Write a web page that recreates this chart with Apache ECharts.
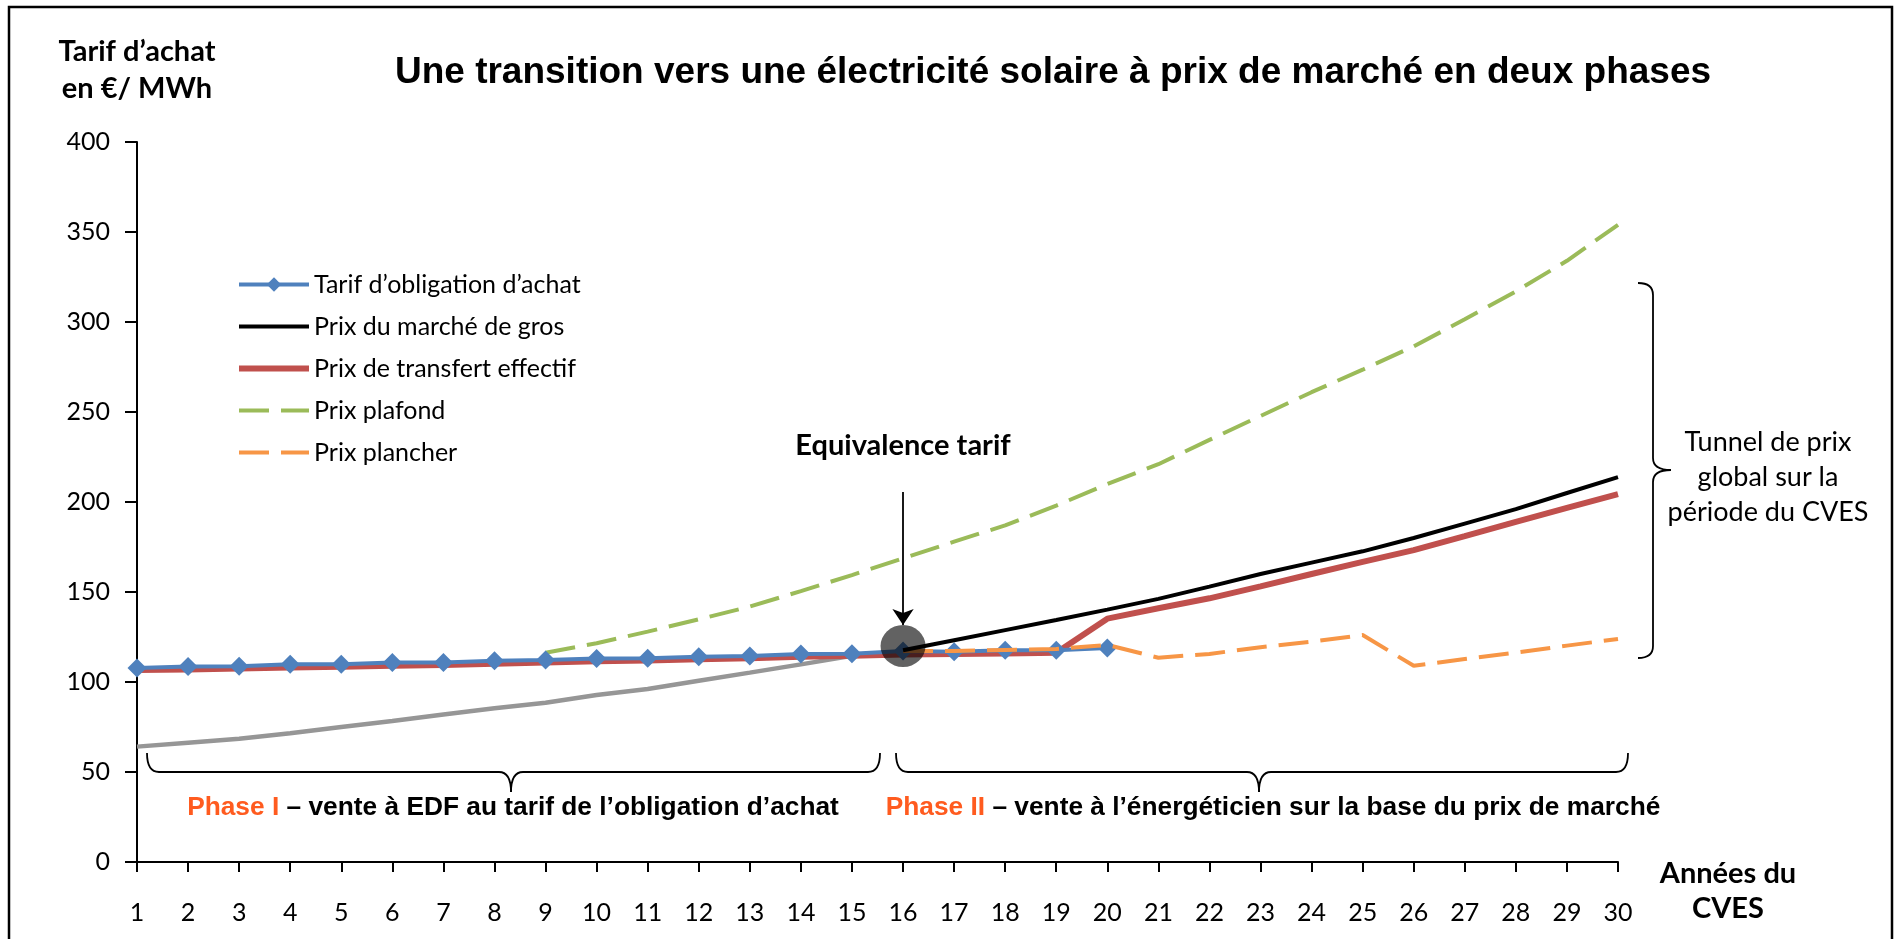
<!DOCTYPE html>
<html>
<head>
<meta charset="utf-8">
<title>Transition CVES</title>
<script src="https://cdn.jsdelivr.net/npm/echarts@6.0.0/dist/echarts.min.js"></script>
<style>
  html, body { margin: 0; padding: 0; background: #fff; }
  #main { width: 1900px; height: 939px; }
</style>
</head>
<body>
<div id="main"></div>
<script type="text/javascript">
  // années du CVES
  var annees = ['1','2','3','4','5','6','7','8','9','10','11','12','13','14','15',
                '16','17','18','19','20','21','22','23','24','25','26','27','28','29','30'];
  var yTicks = [0, 50, 100, 150, 200, 250, 300, 350, 400];

  // Tarif d'obligation d'achat (années 1 à 20)
  var tarifObligation = [107.8, 108.6, 108.7, 109.8, 109.9, 110.8, 110.9, 111.8, 112.2, 113.1,
                         113.2, 114.0, 114.4, 115.6, 115.7, 117.2, 116.8, 117.6, 117.6, 118.9];
  // Prix du marché de gros (à partir de l'année 16)
  var prixMarche = [null, null, null, null, null, null, null, null, null, null, null, null, null, null, null,
                    117.6, 123.2, 128.8, 134.4, 140.2, 146.2, 153.0, 160.0, 166.3, 172.6, 180.0, 188.0, 196.0, 205.0, 213.8];
  // Prix de transfert effectif
  var prixTransfert = [106.7, 107.0, 107.5, 108.0, 108.5, 109.0, 109.5, 110.2, 110.8, 111.5,
                       112.0, 112.6, 113.2, 114.0, 114.6, 115.3, 115.5, 115.8, 116.3, 135.2,
                       141.0, 146.5, 153.1, 160.0, 166.7, 173.3, 181.0, 189.0, 196.7, 204.4];
  // Prix plafond (à partir de l'année 9)
  var prixPlafond = [null, null, null, null, null, null, null, null,
                     116.3, 121.5, 128.0, 134.8, 141.9, 150.5, 159.4, 168.7, 178.0, 187.0, 198.0, 210.0,
                     221.0, 234.5, 247.8, 261.0, 273.5, 286.5, 301.5, 317.0, 334.0, 354.0];
  // Prix plancher (à partir de l'année 16)
  var prixPlancher = [null, null, null, null, null, null, null, null, null, null, null, null, null, null, null,
                      117.2, 117.2, 117.8, 118.3, 120.6, 113.5, 115.6, 119.3, 122.4, 126.1, 109.0, 112.8, 116.3, 120.2, 123.9];
  // courbe grise (années 1 à 15)
  var courbeGrise = [64.1, 66.3, 68.5, 71.5, 75.0, 78.3, 82.0, 85.4, 88.5, 92.8, 96.1, 100.7, 105.2, 109.8, 114.5];

  // point d'équivalence tarif
  var equivAnnee = '16';
  var equivValeur = 120;
  var flecheHaut = 205.6;
  var flecheBas = 131.7;

  var calibri = 'Lato, "Open Sans", sans-serif';
  var arial = '"Liberation Sans", Arial, sans-serif';
  var tirets = [30, 12];

  // accolade horizontale (pointe vers le bas)
  function accoladeH(x1, x2, xm, yBout, yLigne, yPointe, r) {
    var st = { fill: 'none', stroke: '#000', lineWidth: 1.8 };
    return [
      { type: 'bezierCurve', shape: { x1: x1, y1: yBout, x2: x1 + r, y2: yLigne, cpx1: x1, cpy1: yLigne }, style: st },
      { type: 'line', shape: { x1: x1 + r, y1: yLigne, x2: xm - r, y2: yLigne }, style: st },
      { type: 'bezierCurve', shape: { x1: xm - r, y1: yLigne, x2: xm, y2: yPointe, cpx1: xm, cpy1: yLigne }, style: st },
      { type: 'bezierCurve', shape: { x1: xm, y1: yPointe, x2: xm + r, y2: yLigne, cpx1: xm, cpy1: yLigne }, style: st },
      { type: 'line', shape: { x1: xm + r, y1: yLigne, x2: x2 - r, y2: yLigne }, style: st },
      { type: 'bezierCurve', shape: { x1: x2 - r, y1: yLigne, x2: x2, y2: yBout, cpx1: x2, cpy1: yLigne }, style: st }
    ];
  }
  // accolade verticale (pointe vers la droite)
  function accoladeV(y1, y2, ym, xBout, xLigne, xPointe, r) {
    var st = { fill: 'none', stroke: '#000', lineWidth: 1.8 };
    return [
      { type: 'bezierCurve', shape: { x1: xBout, y1: y1, x2: xLigne, y2: y1 + r, cpx1: xLigne, cpy1: y1 }, style: st },
      { type: 'line', shape: { x1: xLigne, y1: y1 + r, x2: xLigne, y2: ym - r }, style: st },
      { type: 'bezierCurve', shape: { x1: xLigne, y1: ym - r, x2: xPointe, y2: ym, cpx1: xLigne, cpy1: ym }, style: st },
      { type: 'bezierCurve', shape: { x1: xPointe, y1: ym, x2: xLigne, y2: ym + r, cpx1: xLigne, cpy1: ym }, style: st },
      { type: 'line', shape: { x1: xLigne, y1: ym + r, x2: xLigne, y2: y2 - r }, style: st },
      { type: 'bezierCurve', shape: { x1: xLigne, y1: y2 - r, x2: xBout, y2: y2, cpx1: xLigne, cpy1: y2 }, style: st }
    ];
  }

  var myChart = echarts.init(document.getElementById('main'));

  var graphics = [
    { type: 'rect', z: 100, silent: true,
      shape: { x: 9, y: 7, width: 1883, height: 950 },
      style: { fill: 'none', stroke: '#000', lineWidth: 2.5 } },
    { type: 'text', x: 1053, y: 73, z: 100,
      style: { text: 'Une transition vers une électricité solaire à prix de marché en deux phases',
               font: 'bold 37px ' + arial, fill: '#000', align: 'center', verticalAlign: 'middle' } },
    { type: 'text', x: 137, y: 70, z: 100,
      style: { text: 'Tarif d’achat\nen €/ MWh', font: 'bold 29px ' + calibri, lineHeight: 37,
               fill: '#000', align: 'center', verticalAlign: 'middle' } },
    { type: 'text', x: 1728, y: 891, z: 100,
      style: { text: 'Années du\nCVES', font: 'bold 29px ' + calibri, lineHeight: 35,
               fill: '#000', align: 'center', verticalAlign: 'middle' } },
    { type: 'text', x: 903, y: 446, z: 100,
      style: { text: 'Equivalence tarif', font: 'bold 29px ' + calibri,
               fill: '#000', align: 'center', verticalAlign: 'middle' } },
    { type: 'text', x: 1768, y: 477, z: 100,
      style: { text: 'Tunnel de prix\nglobal sur la\npériode du CVES', font: '27px ' + calibri, lineHeight: 35,
               fill: '#000', align: 'center', verticalAlign: 'middle' } },
    { type: 'text', x: 513, y: 808, z: 100,
      style: { text: '{o|Phase I} – vente à EDF au tarif de l’obligation d’achat',
               font: 'bold 26.3px ' + arial, fill: '#000', align: 'center', verticalAlign: 'middle',
               rich: { o: { fill: '#FF5B1F', font: 'bold 26.3px ' + arial } } } },
    { type: 'text', x: 1273, y: 808, z: 100,
      style: { text: '{o|Phase II} – vente à l’énergéticien sur la base du prix de marché',
               font: 'bold 26.3px ' + arial, fill: '#000', align: 'center', verticalAlign: 'middle',
               rich: { o: { fill: '#FF5B1F', font: 'bold 26.3px ' + arial } } } }
  ];
  graphics = graphics
    .concat(accoladeH(147, 880, 511, 753, 772, 792, 12))
    .concat(accoladeH(896, 1628, 1259, 753, 772, 792, 12))
    .concat(accoladeV(283, 658, 470, 1638, 1653, 1671, 12));

  var sansSymbole = { opacity: 0 };

  var option = {
    backgroundColor: '#fff',
    animation: false,
    grid: { left: 137, right: 282, top: 142, bottom: 77, containLabel: false },
    legend: {
      orient: 'vertical',
      left: 231,
      top: 266,
      itemWidth: 70,
      itemHeight: 18,
      itemGap: 15,
      textStyle: { fontFamily: calibri, fontSize: 25, lineHeight: 27, color: '#000' },
      data: [
        { name: 'Tarif d’obligation d’achat', lineStyle: { width: 4, color: '#4F81BD' } },
        { name: 'Prix du marché de gros', itemStyle: sansSymbole, lineStyle: { width: 4, color: '#000' } },
        { name: 'Prix de transfert effectif', itemStyle: sansSymbole, lineStyle: { width: 6, color: '#C0504D' } },
        { name: 'Prix plafond', itemStyle: sansSymbole, lineStyle: { width: 4, color: '#9BBB59', type: tirets } },
        { name: 'Prix plancher', itemStyle: sansSymbole, lineStyle: { width: 4, color: '#F79646', type: tirets } }
      ]
    },
    xAxis: {
      type: 'category',
      data: annees,
      boundaryGap: false,
      axisLine: { lineStyle: { color: '#000', width: 2 } },
      axisTick: { show: true, length: 10, lineStyle: { color: '#000', width: 2 }, interval: 0 },
      axisLabel: { interval: 0, margin: 38, fontFamily: calibri, fontSize: 25, color: '#000' },
      splitLine: { show: false }
    },
    yAxis: {
      type: 'value',
      min: yTicks[0],
      max: yTicks[yTicks.length - 1],
      interval: 50,
      axisLine: { show: true, lineStyle: { color: '#000', width: 2 } },
      axisTick: { show: true, length: 12, lineStyle: { color: '#000', width: 2 } },
      axisLabel: { margin: 27, fontFamily: calibri, fontSize: 25, color: '#000' },
      splitLine: { show: false }
    },
    series: [
      {
        name: 'gris',
        type: 'line',
        data: courbeGrise,
        symbol: 'none',
        z: 2,
        lineStyle: { color: '#969696', width: 4.5 }
      },
      {
        name: 'Prix plafond',
        type: 'line',
        data: prixPlafond,
        symbol: 'none',
        z: 3,
        itemStyle: { color: '#9BBB59' },
        lineStyle: { color: '#9BBB59', width: 4, type: tirets }
      },
      {
        name: 'Prix de transfert effectif',
        type: 'line',
        data: prixTransfert,
        symbol: 'none',
        z: 4,
        itemStyle: { color: '#C0504D' },
        lineStyle: { color: '#C0504D', width: 6 }
      },
      {
        name: 'Tarif d’obligation d’achat',
        type: 'line',
        data: tarifObligation,
        symbol: 'diamond',
        symbolSize: 19,
        showSymbol: true,
        z: 5,
        itemStyle: { color: '#4F81BD' },
        lineStyle: { color: '#4F81BD', width: 4 }
      },
      {
        name: 'Prix plancher',
        type: 'line',
        data: prixPlancher,
        symbol: 'none',
        z: 6,
        itemStyle: { color: '#F79646' },
        lineStyle: { color: '#F79646', width: 4, type: tirets }
      },
      {
        name: 'equivalence',
        type: 'scatter',
        data: [[equivAnnee, equivValeur]],
        symbol: 'circle',
        symbolSize: [45, 42],
        z: 7,
        silent: true,
        itemStyle: { color: 'rgba(0,0,0,0.77)' },
        markLine: {
          silent: true,
          symbol: ['none', 'arrow'],
          symbolSize: [16, 16],
          label: { show: false },
          lineStyle: { color: '#000', width: 1.8, type: 'solid' },
          data: [[{ coord: [equivAnnee, flecheHaut] }, { coord: [equivAnnee, flecheBas] }]]
        }
      },
      {
        name: 'Prix du marché de gros',
        type: 'line',
        data: prixMarche,
        symbol: 'none',
        z: 8,
        itemStyle: { color: '#000' },
        lineStyle: { color: '#000', width: 4 }
      }
    ],
    graphic: graphics
  };

  myChart.setOption(option);
</script>
</body>
</html>
